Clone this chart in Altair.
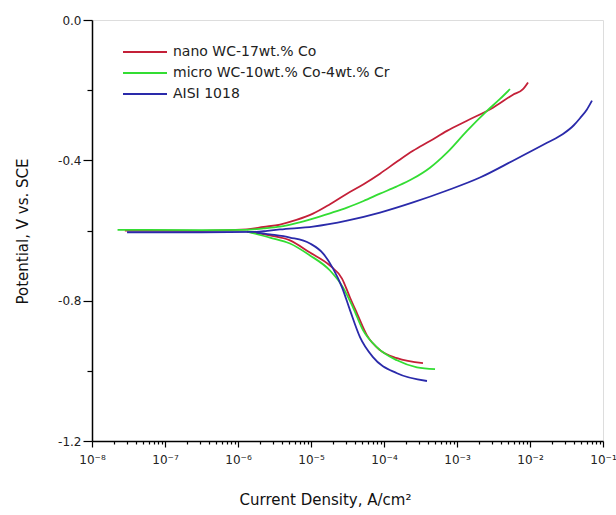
import altair as alt
import pandas as pd

# ---- data (log10 current density, potential V vs SCE)
series_names = ["nano WC-17wt.% Co", "micro WC-10wt.% Co-4wt.% Cr", "AISI 1018"]
series_colors = ["#c42038", "#33dd33", "#2a2aaa"]

red_anodic_logi = [-7.55, -6.5, -5.877, -5.65, -5.425, -5.2, -4.973, -4.74, -4.507, -4.28,
                   -4.055, -3.83, -3.603, -3.37, -3.137, -2.863, -2.507, -2.233, -2.1, -2.027]
red_anodic_v = [-0.600, -0.601, -0.597, -0.590, -0.583, -0.570, -0.552, -0.525, -0.495, -0.468,
                -0.438, -0.405, -0.373, -0.345, -0.316, -0.287, -0.250, -0.213, -0.198, -0.178]
red_cathodic_logi = [-5.877, -5.562, -5.288, -5.014, -4.74, -4.575, -4.466, -4.37, -4.233,
                     -4.055, -3.822, -3.466]
red_cathodic_v = [-0.603, -0.614, -0.628, -0.663, -0.700, -0.737, -0.791, -0.836, -0.899,
                  -0.941, -0.964, -0.978]

green_anodic_logi = [-7.65, -6.5, -5.9, -5.65, -5.425, -5.2, -4.973, -4.74, -4.507, -4.28,
                     -4.055, -3.83, -3.603, -3.37, -3.137, -2.863, -2.589, -2.411, -2.274]
green_anodic_v = [-0.598, -0.599, -0.598, -0.594, -0.589, -0.579, -0.566, -0.551, -0.535, -0.516,
                  -0.495, -0.475, -0.452, -0.421, -0.378, -0.316, -0.259, -0.225, -0.197]
green_cathodic_logi = [-5.877, -5.562, -5.288, -5.014, -4.74, -4.562, -4.425, -4.288, -4.096,
                       -3.822, -3.548, -3.301]
green_cathodic_v = [-0.603, -0.620, -0.637, -0.671, -0.714, -0.762, -0.819, -0.884, -0.933,
                    -0.970, -0.990, -0.995]

blue_anodic_logi = [-7.52, -6.5, -5.75, -5.6, -5.425, -4.973, -4.507, -4.055, -3.603, -3.137,
                    -2.685, -2.233, -1.767, -1.548, -1.4, -1.315, -1.22, -1.151]
blue_anodic_v = [-0.605, -0.605, -0.604, -0.601, -0.597, -0.589, -0.572, -0.549, -0.520, -0.486,
                 -0.449, -0.401, -0.350, -0.325, -0.300, -0.280, -0.255, -0.230]
blue_cathodic_logi = [-5.75, -5.562, -5.288, -5.014, -4.836, -4.699, -4.575, -4.466, -4.329,
                      -4.151, -3.822, -3.411]
blue_cathodic_v = [-0.606, -0.611, -0.620, -0.637, -0.665, -0.708, -0.762, -0.827, -0.904,
                   -0.961, -1.007, -1.029]

x_tick_exponents = [-8, -7, -6, -5, -4, -3, -2, -1]
y_tick_values = [0.0, -0.2, -0.4, -0.6, -0.8, -1.0, -1.2]

# ---- table
rows = []
branches = [
    (series_names[0], "a", red_anodic_logi, red_anodic_v),
    (series_names[0], "c", red_cathodic_logi, red_cathodic_v),
    (series_names[1], "a", green_anodic_logi, green_anodic_v),
    (series_names[1], "c", green_cathodic_logi, green_cathodic_v),
    (series_names[2], "a", blue_anodic_logi, blue_anodic_v),
    (series_names[2], "c", blue_cathodic_logi, blue_cathodic_v),
]
for name, br, lx, vy in branches:
    for k, (a, b) in enumerate(zip(lx, vy)):
        rows.append({"series": name, "key": name + br, "order": k, "i": 10 ** a, "E": b})
df = pd.DataFrame(rows)

x_ticks = []
for e in x_tick_exponents[:-1]:
    for m in range(1, 10):
        x_ticks.append(m * 10.0 ** e)
x_ticks.append(10.0 ** x_tick_exponents[-1])

is_decade = "abs(log(datum.value)/LN10 - round(log(datum.value)/LN10)) < 0.01"
x_label = ("(" + is_decade + ") ? '10\u207b' + ['\u2070','\u00b9','\u00b2','\u00b3','\u2074',"
           "'\u2075','\u2076','\u2077','\u2078','\u2079'][abs(round(log(datum.value)/LN10))] : ''")
is_major_y = "round(abs(datum.value)*10) % 4 == 0"
y_label = "(" + is_major_y + ") ? replace(format(datum.value, '.1f'), '\u2212', '-') : ''"

FONT = "DejaVu Sans"

chart = alt.Chart(df).mark_line(strokeWidth=1.8, interpolate="monotone").encode(
    x=alt.X(
        "i:Q",
        scale=alt.Scale(type="log", domain=[1e-8, 1e-1], nice=False),
        axis=alt.Axis(
            values=x_ticks, labelExpr=x_label, labelOverlap=False, labelFlush=False,
            tickSize={"condition": {"test": is_decade, "value": 6}, "value": 3},
            grid=False, domainColor="black", domainWidth=1.5, tickColor="black", tickWidth=1.2,
            labelFont=FONT, labelFontSize=12, labelColor="#222", labelPadding=7,
            title="Current Density, A/cm\u00b2", titleFont=FONT, titleFontSize=15,
            titleFontWeight="normal", titleColor="#111", titleX=233, titleY=58,
            titleBaseline="middle",
        ),
    ),
    y=alt.Y(
        "E:Q",
        scale=alt.Scale(domain=[-1.2, 0.0], nice=False, zero=False),
        axis=alt.Axis(
            values=y_tick_values, labelExpr=y_label, labelOverlap=False, labelFlush=False,
            tickSize={"condition": {"test": is_major_y, "value": 9}, "value": 5},
            grid=False, domainColor="black", domainWidth=1.5, tickColor="black", tickWidth=1.2,
            labelFont=FONT, labelFontSize=12, labelColor="#222", labelPadding=2,
            title="Potential, V vs. SCE", titleFont=FONT, titleFontSize=15,
            titleFontWeight="normal", titleColor="#111", titleX=-70, titleY=211,
            titleBaseline="middle", titleAngle=-90,
        ),
    ),
    color=alt.Color(
        "series:N",
        scale=alt.Scale(domain=series_names, range=series_colors),
        legend=alt.Legend(
            title=None, orient="none", legendX=41, legendY=20, padding=0,
            symbolType="M-2,0H2", symbolSize=484, symbolStrokeWidth=2,
            symbolFillColor="transparent",
            rowPadding=2, labelFont=FONT, labelFontSize=14, labelColor="#222",
            labelOffset=16, labelLimit=500,
        ),
    ),
    detail="key:N",
    order="order:Q",
).properties(
    width=511,
    height=421,
    padding={"left": 92, "top": 20, "right": 13, "bottom": 74},
    autosize=alt.AutoSizeParams(type="none"),
).configure_view(stroke="black", strokeWidth=1.5).configure(background="white")

chart.save("out.html", embed_options={"renderer": "svg", "actions": False})
